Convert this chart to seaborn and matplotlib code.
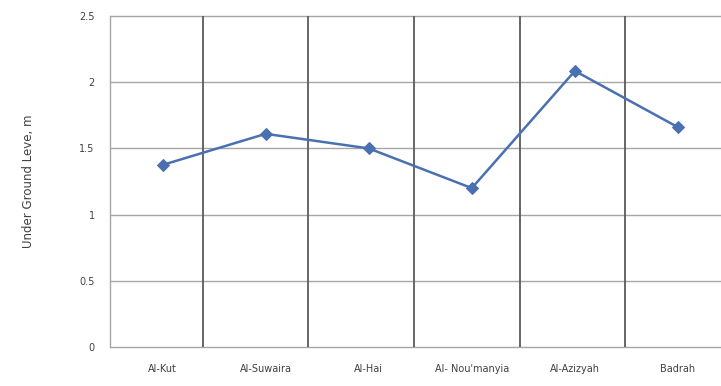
import matplotlib
matplotlib.use("Agg")
import matplotlib.pyplot as plt
import seaborn as sns
import pandas as pd
import numpy as np

categories = ["Al-Kut", "Al-Suwaira", "Al-Hai", "Al- Nou'manyia", "Al-Azizyah", "Badrah"]
depth = [1.375, 1.61, 1.50, 1.20, 2.085, 1.66]
y_ticks = [0, 0.5, 1, 1.5, 2, 2.5]
y_tick_labels = ["0", "0.5", "1", "1.5", "2", "2.5"]

df = pd.DataFrame({"x": np.arange(len(categories)), "site": categories, "depth": depth})

sns.set_theme(style="white")
plt.rcParams['font.family'] = ['DejaVu Sans']

fig = plt.figure(figsize=(7.21, 3.86), dpi=100)
ax = fig.add_axes([110/721, 1-347/386, 1-110/721, (347-16)/386])

# horizontal gridlines
for yt in y_ticks:
    ax.axhline(yt, color="#a6a6a6", lw=1.0, zorder=0, clip_on=False)
# vertical separators between categories
for k in range(5):
    ax.axvline(0.39 + 1.025*k, color="#5a5a5a", lw=1.3, zorder=0)

sns.lineplot(data=df, x="x", y="depth", ax=ax, color="#4a70b2", lw=1.8,
             marker="D", markersize=6, markeredgecolor="#4a70b2", zorder=3)

ax.set_xlim(-0.51, (721-163)/103)
ax.set_ylim(0, 2.5)
ax.set_yticks(y_ticks)
ax.set_yticklabels(y_tick_labels, fontsize=7, color="#404040")
ax.set_xticks(df["x"])
ax.set_xticklabels(categories, fontsize=7, color="#404040")
ax.tick_params(axis="x", length=0, pad=12)
ax.tick_params(axis="y", length=3, color="#a6a6a6", pad=8)
ax.set_xlabel("")
ax.set_ylabel("Under Ground Leve, m", fontsize=8.5, color="#404040", labelpad=32)

for s in ["top", "right", "bottom"]:
    ax.spines[s].set_visible(False)
ax.spines["left"].set_color("#a6a6a6")
ax.spines["left"].set_linewidth(1.0)

fig.savefig("out.png", dpi=100)
